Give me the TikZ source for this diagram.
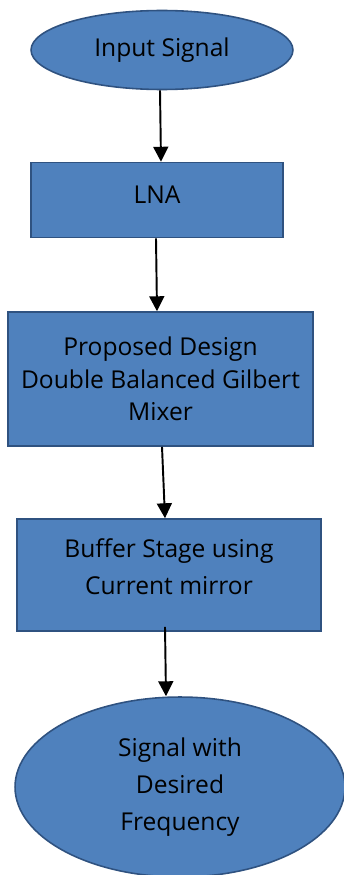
\documentclass[tikz,border=0pt]{standalone}
\usepackage{fontspec}
\setmainfont{Open Sans}
\usetikzlibrary{arrows.meta}
\usetikzlibrary{shapes.geometric}
\definecolor{boxblue}{HTML}{4F81BD}
\definecolor{boxedge}{HTML}{2F5280}

\begin{document}
\begin{tikzpicture}[x=0.02cm,y=-0.02cm,
    terminal/.style={ellipse,draw=boxedge,fill=boxblue,line width=0.9pt,inner sep=0pt,align=center,font=\fontsize{14}{21}\selectfont},
    process/.style={rectangle,draw=boxedge,fill=boxblue,line width=0.9pt,inner sep=0pt,align=center,font=\fontsize{14}{18.5}\selectfont},
    flow/.style={-{Triangle[width=8.5pt,length=8.5pt]},line width=1.1pt,black}]
        \useasboundingbox (0,0) rectangle (343,875);

        \node[terminal,minimum width=5.24cm,minimum height=1.58cm] (in) at (162,50) {Input Signal};
        \node[process,minimum width=5.04cm,minimum height=1.5cm,text depth=0.2cm] (lna) at (157,200) {LNA};
        \node[process,minimum width=6.1cm,minimum height=2.68cm] (mix) at (160.5,379) {Proposed Design\\Double Balanced Gilbert\\Mixer};
        \node[process,minimum width=6.08cm,minimum height=2.24cm,text depth=0.34cm,font=\fontsize{14}{21.5}\selectfont] (buf) at (169,575) {Buffer Stage using\\Current mirror};
        \node[terminal,minimum width=6.6cm,minimum height=3.6cm] (out) at (180,787) {Signal with\\Desired\\Frequency};

        % connectors
        \draw[flow] ([xshift=-0.04cm]in.south) -- ([xshift=0.08cm]lna.north);
        \draw[flow] ([xshift=-0.02cm]lna.south) -- ([xshift=-0.07cm]mix.north);
        \draw[flow] ([xshift=0.03cm]mix.south) -- ([xshift=-0.08cm]buf.north);
        \draw[flow] ([xshift=-0.08cm,yshift=0.1cm]buf.south) -- ([xshift=-0.28cm]out.north);
      \end{tikzpicture}
\end{document}
